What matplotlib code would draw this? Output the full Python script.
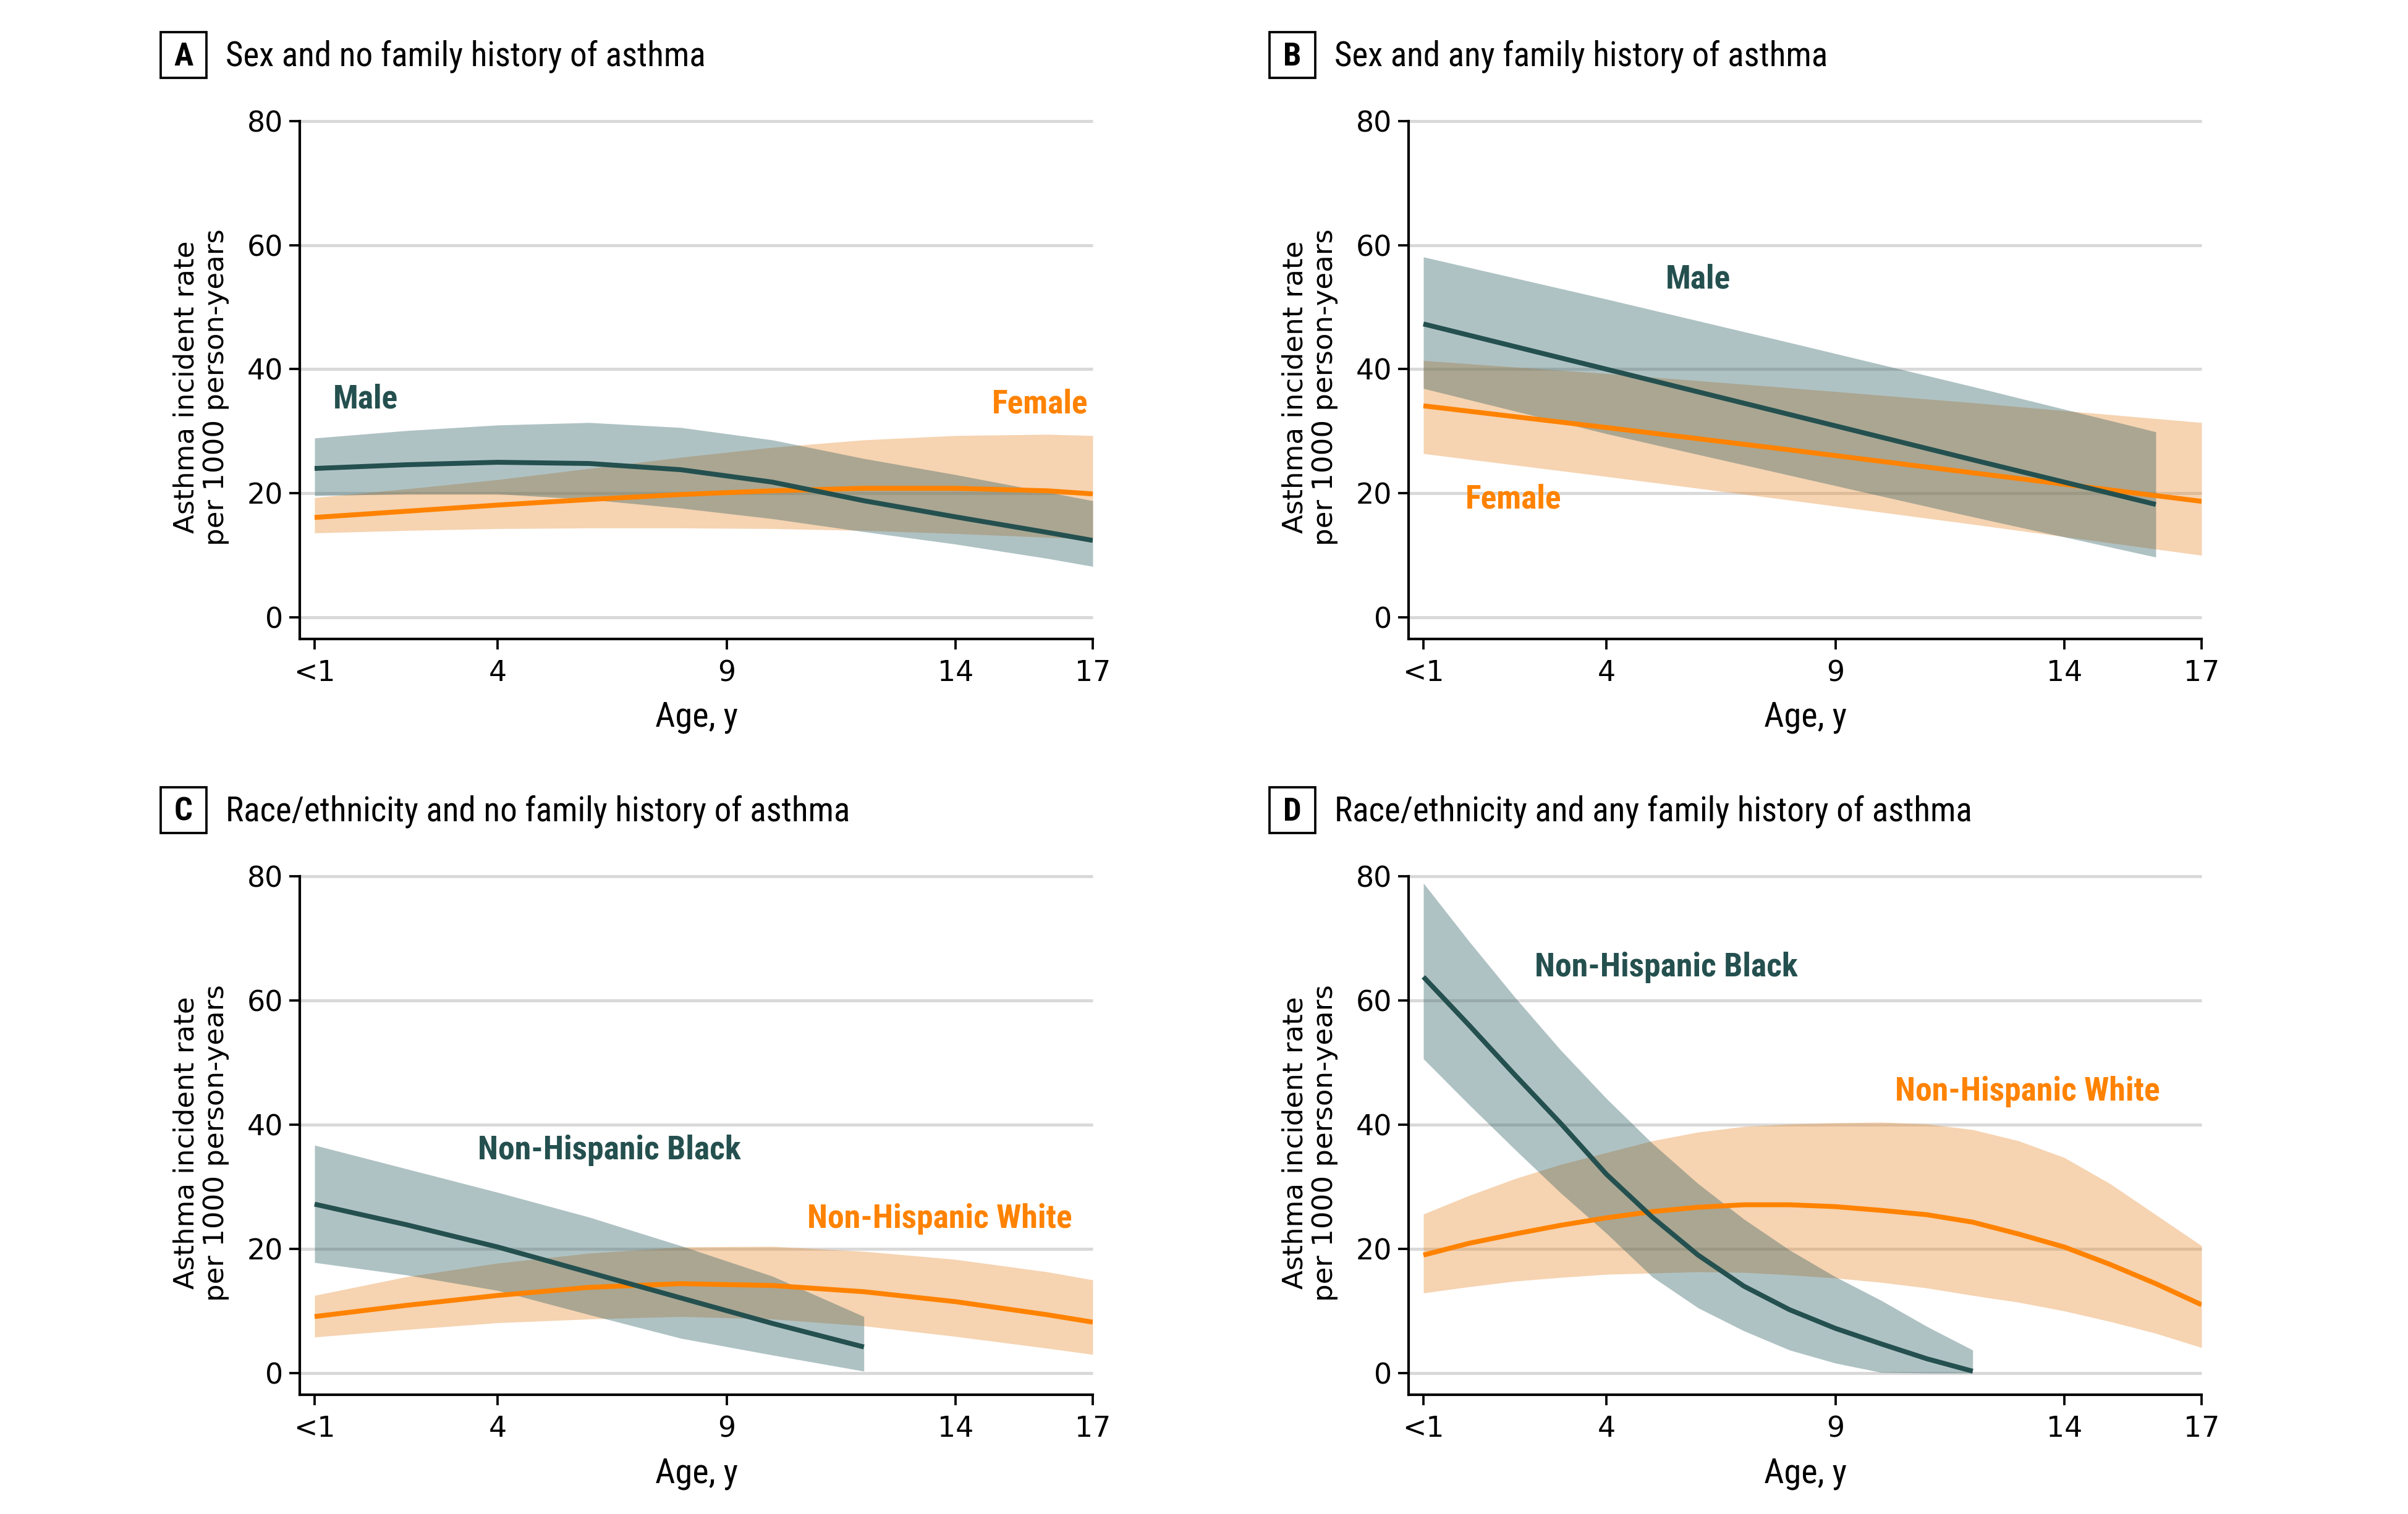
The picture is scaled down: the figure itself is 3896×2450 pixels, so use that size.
import matplotlib
matplotlib.use("Agg")
import matplotlib.pyplot as plt
from matplotlib import font_manager as fm
from matplotlib.patches import Rectangle

# ---------------- data ----------------
x_ticks = [0, 4, 9, 14, 17]
x_ticklabels = ["<1", "4", "9", "14", "17"]
y_ticks = [0, 20, 40, 60, 80]

# Panel A: sex, no family history
a_age = [0, 2, 4, 6, 8, 10, 12, 14, 16, 17]
a_male = [24.0, 24.6, 25.0, 24.8, 23.8, 21.8, 18.8, 16.2, 13.7, 12.4]
a_male_hi = [28.9, 30.1, 31.0, 31.4, 30.6, 28.6, 25.6, 23.0, 20.2, 18.8]
a_male_lo = [19.6, 19.9, 19.9, 19.0, 17.6, 15.9, 13.8, 11.8, 9.5, 8.2]
a_female = [16.1, 17.1, 18.1, 19.0, 19.8, 20.4, 20.8, 20.8, 20.4, 19.9]
a_female_hi = [19.3, 20.7, 22.2, 24.0, 25.8, 27.4, 28.6, 29.3, 29.5, 29.3]
a_female_lo = [13.6, 14.0, 14.3, 14.4, 14.4, 14.3, 14.0, 13.5, 12.9, 12.6]

# Panel B: sex, any family history
b_male_age = [0, 4, 8, 12, 16]
b_male = [47.3, 40.0, 32.7, 25.4, 18.2]
b_male_hi = [58.1, 51.3, 44.3, 37.2, 29.9]
b_male_lo = [36.9, 29.6, 22.9, 16.2, 9.7]
b_female_age = [0, 4, 8, 12, 17]
b_female = [34.1, 30.6, 27.0, 23.3, 18.7]
b_female_hi = [41.4, 39.3, 37.0, 34.6, 31.4]
b_female_lo = [26.4, 22.7, 18.9, 15.0, 10.0]

# Panel C: race/ethnicity, no family history
c_black_age = [0, 2, 4, 6, 8, 10, 12]
c_black = [27.2, 23.9, 20.3, 16.2, 12.1, 8.0, 4.2]
c_black_hi = [36.7, 32.9, 29.1, 25.1, 20.5, 15.6, 9.1]
c_black_lo = [17.8, 15.8, 13.3, 9.4, 5.6, 2.9, 0.3]
c_white_age = [0, 2, 4, 6, 8, 10, 12, 14, 16, 17]
c_white = [9.1, 10.9, 12.5, 13.8, 14.4, 14.1, 13.1, 11.5, 9.4, 8.2]
c_white_hi = [12.5, 15.5, 17.7, 19.3, 20.3, 20.4, 19.6, 18.3, 16.3, 15.0]
c_white_lo = [5.8, 7.0, 8.1, 8.7, 9.1, 8.7, 7.6, 5.9, 4.0, 3.0]

# Panel D: race/ethnicity, any family history
d_black_age = [0, 1, 2, 3, 4, 5, 6, 7, 8, 9, 10, 11, 12]
d_black = [63.8, 56.0, 48.0, 40.2, 32.0, 25.1, 19.0, 14.0, 10.2, 7.2, 4.7, 2.3, 0.3]
d_black_hi = [78.9, 69.5, 60.5, 52.0, 44.2, 37.0, 30.5, 24.8, 19.8, 15.5, 11.7, 7.5, 3.7]
d_black_lo = [50.6, 43.2, 36.0, 29.0, 22.5, 15.5, 10.5, 6.8, 3.7, 1.6, 0.1, 0.0, 0.0]
d_white_age = [0, 1, 2, 3, 4, 5, 6, 7, 8, 9, 10, 11, 12, 13, 14, 15, 16, 17]
d_white = [19.0, 20.9, 22.4, 23.8, 25.0, 26.0, 26.7, 27.1, 27.1, 26.8, 26.2, 25.5,
           24.3, 22.4, 20.3, 17.5, 14.4, 11.0]
d_white_hi = [25.6, 28.6, 31.3, 33.6, 35.5, 37.4, 38.8, 39.7, 40.1, 40.3, 40.4, 40.1,
              39.2, 37.4, 34.7, 30.5, 25.5, 20.5]
d_white_lo = [12.9, 13.9, 14.8, 15.4, 15.9, 16.1, 16.3, 16.2, 15.8, 15.3, 14.6, 13.7,
              12.5, 11.4, 10.0, 8.3, 6.4, 4.1]

titles = ["Sex and no family history of asthma",
          "Sex and any family history of asthma",
          "Race/ethnicity and no family history of asthma",
          "Race/ethnicity and any family history of asthma"]
letters = ["A", "B", "C", "D"]
ylabel = "Asthma incident rate\nper 1000 person-years"
xlabel = "Age, y"

# ---------------- style ----------------
W, H, DPI = 3896, 2450, 300
DARK = "#24504f"
ORANGE = "#ff8200"
BAND_DARK = "#2f5f62"
BAND_ORANGE = "#e88c32"
GRID = "#d9d9d9"

names = {f.name for f in fm.fontManager.ttflist}
COND = next((n for n in ["Roboto Condensed", "Open Sans Condensed",
                         "Liberation Sans Narrow", "DejaVu Sans"] if n in names),
            "DejaVu Sans")
plt.rcParams["font.family"] = ["DejaVu Sans"]

fig = plt.figure(figsize=(W / DPI, H / DPI), dpi=DPI)


def fx(px):
    return px / W


def fy(py):
    return 1 - py / H


# axes rectangles in pixels: (left spine, right end, top (80), bottom spine)
panels = [(485, 1768, 196, 1034), (2279, 3562, 196, 1034),
          (485, 1768, 1418, 2257), (2279, 3562, 1418, 2257)]

axes = []
for i, (l, r, t, b) in enumerate(panels):
    ax = fig.add_axes([fx(l), fy(b), fx(r) - fx(l), fy(t) - fy(b)])
    ax.set_xlim(-0.324, 17)
    ax.set_ylim(-3.49, 80)
    for s in ["top", "right"]:
        ax.spines[s].set_visible(False)
    for s in ["left", "bottom"]:
        ax.spines[s].set_linewidth(1.0)
        ax.spines[s].set_color("black")
    ax.set_xticks(x_ticks)
    ax.set_xticklabels(x_ticklabels)
    ax.set_yticks(y_ticks)
    ax.tick_params(axis="both", direction="out", length=4, width=0.9,
                   labelsize=11.0, colors="black")
    ax.tick_params(axis="x", pad=4)
    ax.tick_params(axis="y", pad=2.5)
    for yv in y_ticks:
        ax.plot([-0.324, 17], [yv, yv], color=GRID, lw=1.2, zorder=0.5,
                solid_capstyle="butt", clip_on=False)
    ax.set_ylabel(ylabel, fontsize=10.8, linespacing=1.15, ha="center", va="center")
    ax.yaxis.set_label_coords(-0.1247, 0.486)
    ax.set_xlabel(xlabel, fontfamily=COND, fontsize=13.5, va="center")
    ax.xaxis.set_label_coords(0.5, -0.1515)
    axes.append(ax)

    # title box + text
    dx = l - 485
    dy = t - 196
    bl, bt = 260 + dx, 52 + dy
    fig.patches.append(Rectangle((fx(bl), fy(bt + 74)), fx(74), 74 / H,
                                 transform=fig.transFigure, fill=False,
                                 edgecolor="black", lw=0.9))
    fig.text(fx(bl + 37), fy(bt + 54), letters[i], ha="center", va="baseline",
             fontfamily=COND, fontweight="bold", fontsize=12.6)
    fig.text(fx(365 + dx), fy(107 + dy), titles[i], ha="left", va="baseline",
             fontfamily=COND, fontsize=13.2)


def band(ax, x, lo, hi, col):
    ax.fill_between(x, lo, hi, color=col, alpha=0.38, lw=0, zorder=1)


def line(ax, x, y, col):
    ax.plot(x, y, color=col, lw=1.9, zorder=3, solid_capstyle="butt")


lab = dict(fontfamily=COND, fontweight="bold", fontsize=12.9, va="center")

# Panel A
ax = axes[0]
band(ax, a_age, a_female_lo, a_female_hi, BAND_ORANGE)
band(ax, a_age, a_male_lo, a_male_hi, BAND_DARK)
line(ax, a_age, a_female, ORANGE)
line(ax, a_age, a_male, DARK)
ax.text(0.4, 35.2, "Male", color=DARK, ha="left", **lab)
ax.text(16.9, 34.4, "Female", color=ORANGE, ha="right", **lab)

# Panel B
ax = axes[1]
band(ax, b_female_age, b_female_lo, b_female_hi, BAND_ORANGE)
band(ax, b_male_age, b_male_lo, b_male_hi, BAND_DARK)
line(ax, b_female_age, b_female, ORANGE)
line(ax, b_male_age, b_male, DARK)
ax.text(6.0, 54.5, "Male", color=DARK, ha="center", **lab)
ax.text(1.97, 19.0, "Female", color=ORANGE, ha="center", **lab)

# Panel C
ax = axes[2]
band(ax, c_white_age, c_white_lo, c_white_hi, BAND_ORANGE)
band(ax, c_black_age, c_black_lo, c_black_hi, BAND_DARK)
line(ax, c_white_age, c_white, ORANGE)
line(ax, c_black_age, c_black, DARK)
ax.text(6.44, 35.9, "Non-Hispanic Black", color=DARK, ha="center", **lab)
ax.text(13.65, 24.8, "Non-Hispanic White", color=ORANGE, ha="center", **lab)

# Panel D
ax = axes[3]
band(ax, d_white_age, d_white_lo, d_white_hi, BAND_ORANGE)
band(ax, d_black_age, d_black_lo, d_black_hi, BAND_DARK)
line(ax, d_white_age, d_white, ORANGE)
line(ax, d_black_age, d_black, DARK)
ax.text(5.3, 65.3, "Non-Hispanic Black", color=DARK, ha="center", **lab)
ax.text(13.2, 45.3, "Non-Hispanic White", color=ORANGE, ha="center", **lab)

fig.savefig("out.png", dpi=DPI, facecolor="white")
